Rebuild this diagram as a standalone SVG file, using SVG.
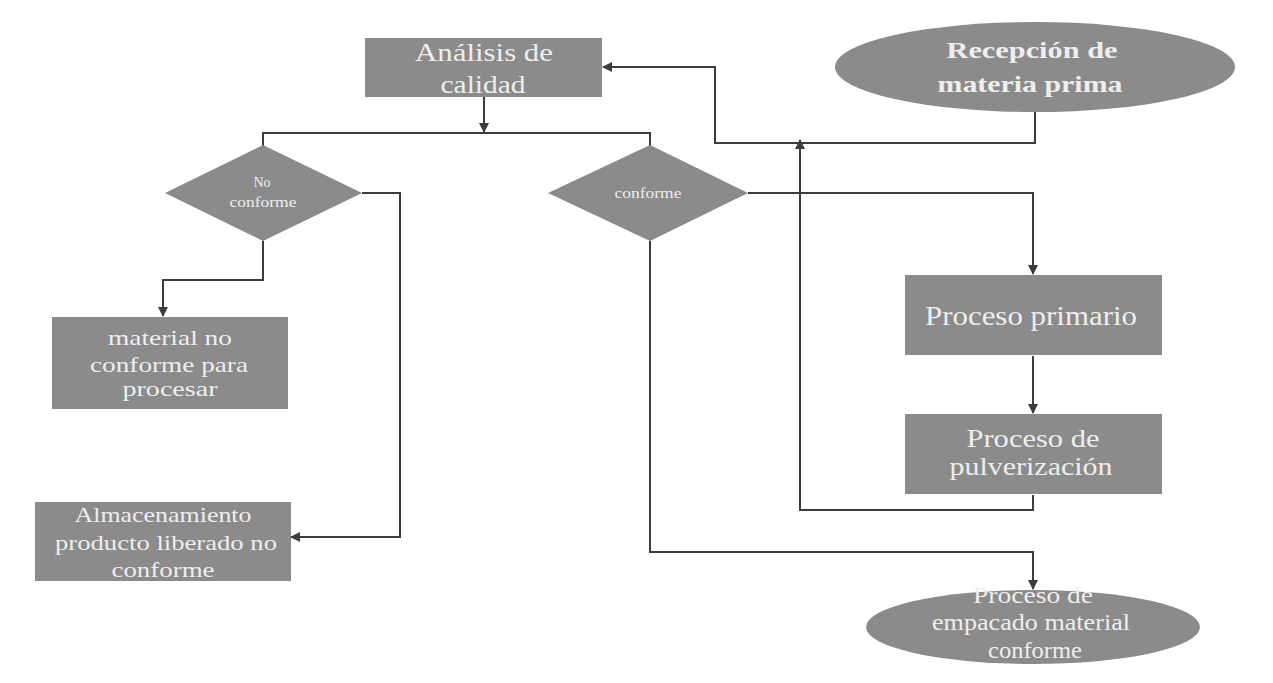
<svg xmlns="http://www.w3.org/2000/svg" width="1273" height="683" viewBox="0 0 1273 683">
<style>
.box{fill:#8b8b8b;}
.t{font-family:"Liberation Serif","Times New Roman",serif;fill:#eeeeee;text-anchor:middle;}
.b{font-weight:bold;}
.ln{fill:none;stroke:#3c3c3c;stroke-width:2;}
</style>
<defs>
<marker id="ar" viewBox="0 0 10 10" refX="9" refY="5" markerWidth="5" markerHeight="5" orient="auto" markerUnits="strokeWidth">
<path d="M0,0 L10,5 L0,10 z" fill="#3c3c3c"/>
</marker>
</defs>
<rect width="1273" height="683" fill="#ffffff"/>
<g id="connectors">
<path class="ln" d="M1035,112 V143 H715 V67 H603" marker-end="url(#ar)"/>
<path class="ln" d="M1033,495 V510 H800 V140" marker-end="url(#ar)"/>
<path class="ln" d="M484,97 V132" marker-end="url(#ar)"/>
<path class="ln" d="M263,146 V133 H650 V146"/>
<path class="ln" d="M263,241 V280 H163 V316" marker-end="url(#ar)"/>
<path class="ln" d="M362,193 H400 V537 H291" marker-end="url(#ar)"/>
<path class="ln" d="M748,193 H1033 V274" marker-end="url(#ar)"/>
<path class="ln" d="M1033,356 V413" marker-end="url(#ar)"/>
<path class="ln" d="M650,241 V552 H1033 V589" marker-end="url(#ar)"/>
</g>
<g id="analisis">
<rect class="box" x="365" y="38" width="237" height="59"/>
<text class="t" x="484" y="61" font-size="25" textLength="138" lengthAdjust="spacingAndGlyphs">Análisis de</text>
<text class="t" x="483" y="93" font-size="25" textLength="85" lengthAdjust="spacingAndGlyphs">calidad</text>
</g>
<g id="recepcion">
<ellipse class="box" cx="1035" cy="67" rx="200" ry="45"/>
<text class="t b" x="1032" y="58" font-size="23" textLength="171" lengthAdjust="spacingAndGlyphs">Recepción de</text>
<text class="t b" x="1030" y="92" font-size="23" textLength="185" lengthAdjust="spacingAndGlyphs">materia prima</text>
</g>
<g id="noconforme">
<polygon class="box" points="263,145 362,193 263,241 165,193"/>
<text class="t" x="262" y="187" font-size="14">No</text>
<text class="t" x="263" y="207" font-size="14" textLength="67" lengthAdjust="spacingAndGlyphs">conforme</text>
</g>
<g id="conforme">
<polygon class="box" points="650,145 748,193 650,241 548,193"/>
<text class="t" x="648" y="198" font-size="14" textLength="67" lengthAdjust="spacingAndGlyphs">conforme</text>
</g>
<g id="material">
<rect class="box" x="52" y="317" width="236" height="92"/>
<text class="t" x="170" y="345" font-size="22" textLength="124" lengthAdjust="spacingAndGlyphs">material  no</text>
<text class="t" x="169" y="372" font-size="22" textLength="158" lengthAdjust="spacingAndGlyphs">conforme para</text>
<text class="t" x="170" y="396" font-size="22" textLength="95" lengthAdjust="spacingAndGlyphs">procesar</text>
</g>
<g id="almacenamiento">
<rect class="box" x="35" y="502" width="256" height="79"/>
<text class="t" x="163" y="522" font-size="22" textLength="177" lengthAdjust="spacingAndGlyphs">Almacenamiento</text>
<text class="t" x="166" y="550" font-size="22" textLength="222" lengthAdjust="spacingAndGlyphs">producto liberado no</text>
<text class="t" x="163" y="577" font-size="22" textLength="103" lengthAdjust="spacingAndGlyphs">conforme</text>
</g>
<g id="primario">
<rect class="box" x="905" y="275" width="257" height="80"/>
<text class="t" x="1031" y="325" font-size="27" textLength="212" lengthAdjust="spacingAndGlyphs">Proceso primario</text>
</g>
<g id="pulverizacion">
<rect class="box" x="905" y="414" width="257" height="80"/>
<text class="t" x="1033" y="447" font-size="26" textLength="133" lengthAdjust="spacingAndGlyphs">Proceso de</text>
<text class="t" x="1031" y="475" font-size="26" textLength="163" lengthAdjust="spacingAndGlyphs">pulverización</text>
</g>
<g id="empacado">
<ellipse class="box" cx="1033" cy="627" rx="167" ry="37"/>
<text class="t" x="1033" y="603" font-size="23" textLength="120" lengthAdjust="spacingAndGlyphs">Proceso de</text>
<text class="t" x="1031" y="630" font-size="23" textLength="198" lengthAdjust="spacingAndGlyphs">empacado material</text>
<text class="t" x="1035" y="658" font-size="23" textLength="94" lengthAdjust="spacingAndGlyphs">conforme</text>
</g>
</svg>
